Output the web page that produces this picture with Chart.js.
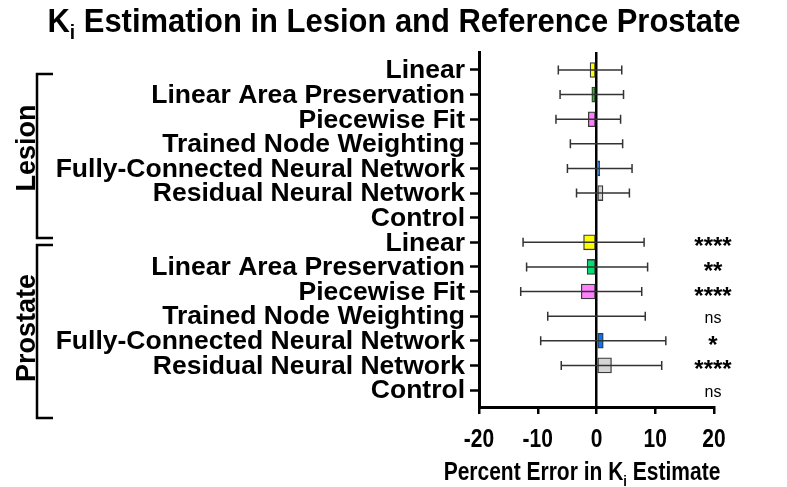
<!DOCTYPE html>
<html>
<head>
<meta charset="utf-8">
<script src="https://cdn.jsdelivr.net/npm/chart.js@4"></script>
<style>
  html, body { margin: 0; padding: 0; background: #fff; }
  #wrap { width: 787px; height: 487px; }
</style>
</head>
<body>
<div id="wrap"><canvas id="chart" width="787" height="487"></canvas></div>
<script>
// Chart data
const categories = ['Linear', 'Linear Area Preservation', 'Piecewise Fit', 'Trained Node Weighting',
  'Fully-Connected Neural Network', 'Residual Neural Network', 'Control'];
const groups = ['Lesion', 'Prostate'];

const lesionMean = [-1.1, -0.8, -1.4, 0, 0.55, 1.1, null];
const lesionSD = [5.4, 5.4, 5.5, 4.45, 5.5, 4.5, null];
const prostateMean = [-2.2, -1.6, -2.6, 0, 1.15, 2.55, null];
const prostateSD = [10.3, 10.3, 10.3, 8.3, 10.65, 8.55, null];

const lesionSig = ['', '', '', '', '', '', ''];
const prostateSig = ['****', '**', '****', 'ns', '*', '****', 'ns'];

const lesionColors = ['#ffff00', '#00dd00', '#ff80ff', '#ffffff', '#0066ee', '#d4d4d4', '#ffffff'];
const prostateColors = ['#ffff00', '#00e070', '#ff80ff', '#ffffff', '#0077ff', '#d4d4d4', '#ffffff'];

const xTicks = [-20, -10, 0, 10, 20];
const titleParts = [['K', true], ['i', false], [' Estimation in Lesion and Reference Prostate', true]];
const xTitleParts = [['Percent Error in K', true], ['i', false], [' Estimate', true]];

// rows = lesion block then prostate block
const rowLabels = categories.concat(categories);
const means = lesionMean.concat(prostateMean);
const sds = lesionSD.concat(prostateSD);
const sigs = lesionSig.concat(prostateSig);
const colors = lesionColors.concat(prostateColors);

const FONT = '"Liberation Sans", Arial, Helvetica, sans-serif';

// draw text with K_i style subscripts, optionally squeezed horizontally
function drawRich(ctx, parts, x, y, size, align, sx) {
  const subSize = size * 0.62;
  let w = 0;
  parts.forEach(p => {
    ctx.font = 'bold ' + (p[1] ? size : subSize) + 'px ' + FONT;
    w += ctx.measureText(p[0]).width;
  });
  ctx.save();
  ctx.translate(x, y);
  ctx.scale(sx, 1);
  let cx = align === 'center' ? -w / 2 : (align === 'right' ? -w : 0);
  ctx.textAlign = 'left';
  ctx.textBaseline = 'alphabetic';
  ctx.fillStyle = '#000';
  parts.forEach(p => {
    ctx.font = 'bold ' + (p[1] ? size : subSize) + 'px ' + FONT;
    ctx.fillText(p[0], cx, p[1] ? 0 : size * 0.22);
    cx += ctx.measureText(p[0]).width;
  });
  ctx.restore();
}

const decorations = {
  id: 'decorations',
  afterDatasetsDraw(chart) {
    const ctx = chart.ctx;
    const xs = chart.scales.x;
    const ys = chart.scales.y;

    // error bars
    ctx.save();
    ctx.strokeStyle = '#333';
    ctx.lineWidth = 1.5;
    means.forEach((m, i) => {
      if (m === null || sds[i] === null) return;
      const y = ys.getPixelForValue(i);
      const x1 = xs.getPixelForValue(m - sds[i]);
      const x2 = xs.getPixelForValue(m + sds[i]);
      ctx.beginPath();
      ctx.moveTo(x1, y); ctx.lineTo(x2, y);
      ctx.moveTo(x1, y - 4.5); ctx.lineTo(x1, y + 4.5);
      ctx.moveTo(x2, y - 4.5); ctx.lineTo(x2, y + 4.5);
      ctx.stroke();
    });
    ctx.restore();

    // significance marks
    ctx.save();
    ctx.fillStyle = '#000';
    ctx.textAlign = 'center';
    ctx.textBaseline = 'alphabetic';
    sigs.forEach((s, i) => {
      if (!s) return;
      const y = ys.getPixelForValue(i);
      const x = xs.getPixelForValue(20) - 1;
      if (s === 'ns') {
        ctx.font = '16px ' + FONT;
        ctx.fillText(s, x, y + 7);
      } else {
        ctx.font = 'bold 24px ' + FONT;
        ctx.fillText(s, x, y + 12);
      }
    });
    ctx.restore();

    // category labels
    ctx.save();
    ctx.fillStyle = '#000';
    ctx.font = 'bold 26.5px ' + FONT;
    ctx.textAlign = 'right';
    ctx.textBaseline = 'middle';
    rowLabels.forEach((lab, i) => {
      ctx.fillText(lab, 465, ys.getPixelForValue(i) + 1);
    });
    ctx.restore();

    // x tick labels
    ctx.save();
    ctx.fillStyle = '#000';
    xTicks.forEach(v => {
      drawRich(ctx, [[String(v), true]], xs.getPixelForValue(v), 447, 25, 'center', 0.84);
    });
    ctx.restore();

    // titles
    drawRich(ctx, titleParts, 394, 32, 34, 'center', 0.91);
    drawRich(ctx, xTitleParts, 582, 480, 25, 'center', 0.84);

    // group brackets
    ctx.save();
    ctx.strokeStyle = '#000';
    ctx.lineWidth = 2.5;
    const spans = [[74, 238], [245, 418]];
    spans.forEach(s => {
      ctx.beginPath();
      ctx.moveTo(53, s[0]); ctx.lineTo(37, s[0]); ctx.lineTo(37, s[1]); ctx.lineTo(53, s[1]);
      ctx.stroke();
    });
    ctx.fillStyle = '#000';
    ctx.font = 'bold 27px ' + FONT;
    ctx.textAlign = 'center';
    ctx.textBaseline = 'alphabetic';
    [[groups[0], 148], [groups[1], 328]].forEach(g => {
      ctx.save();
      ctx.translate(35, g[1]);
      ctx.rotate(-Math.PI / 2);
      ctx.fillText(g[0], 0, 0);
      ctx.restore();
    });
    ctx.restore();
  }
};

new Chart(document.getElementById('chart'), {
  type: 'bar',
  data: {
    datasets: [{
      data: means.map((m, i) => ({ x: m, y: i })),
      backgroundColor: colors,
      borderColor: '#3a3a3a',
      borderWidth: 1.3,
      borderSkipped: false,
      barThickness: 15
    }]
  },
  options: {
    indexAxis: 'y',
    responsive: false,
    animation: false,
    layout: { padding: { top: 52, right: 73, left: 0, bottom: 0 } },
    plugins: {
      legend: { display: false },
      tooltip: { enabled: false }
    },
    scales: {
      x: {
        type: 'linear',
        min: -20,
        max: 20,
        ticks: { display: false, stepSize: 10 },
        afterFit: s => { s.height = 80; },
        border: { color: '#000', width: 3 },
        grid: {
          color: c => c.tick && c.tick.value === 0 ? '#000' : 'rgba(0,0,0,0)',
          lineWidth: 2.5,
          tickColor: '#000',
          tickLength: 7,
          tickWidth: 2.5
        }
      },
      y: {
        type: 'linear',
        reverse: true,
        offset: false,
        min: -0.73,
        max: 13.69,
        afterBuildTicks: s => { s.ticks = rowLabels.map((_, i) => ({ value: i })); },
        ticks: { display: false },
        afterFit: s => { s.width = 479; },
        border: { color: '#000', width: 3 },
        grid: {
          offset: false,
          drawOnChartArea: false,
          tickColor: '#000',
          tickLength: 9,
          tickWidth: 2.5
        }
      }
    }
  },
  plugins: [decorations]
});
</script>
</body>
</html>
